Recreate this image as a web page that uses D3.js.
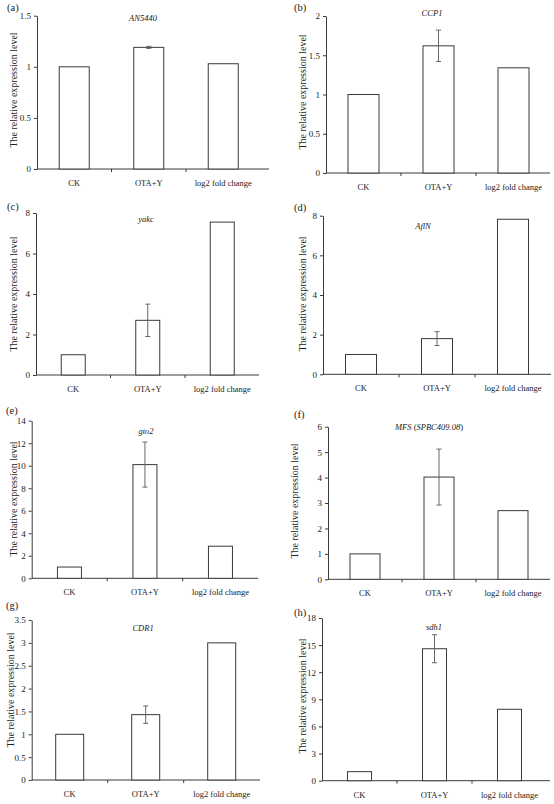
<!DOCTYPE html>
<html>
<head>
<meta charset="utf-8">
<script src="https://cdn.jsdelivr.net/npm/d3@7"></script>
<style>
  body { margin: 0; background: #fff; }
  text { font-family: "Liberation Serif", "DejaVu Serif", serif; fill: #222; }
</style>
</head>
<body>
<div id="chart"></div>
<script>
var categories = ["CK", "OTA+Y", "log2 fold change"];
var panelLabels = ["(a)", "(b)", "(c)", "(d)", "(e)", "(f)", "(g)", "(h)"];
var genes = ["AN5440", "CCP1", "yakc", "AflN", "gto2", "MFS", "CDR1", "sdh1"];
var ckValues = [1, 1, 1, 1, 1, 1, 1, 1];
var otaValues = [1.19, 1.62, 2.7, 1.8, 10.1, 4.02, 1.43, 14.6];
var otaErrors = [0.01, 0.2, 0.8, 0.35, 2.0, 1.1, 0.19, 1.55];
var log2Values = [1.03, 1.34, 7.55, 7.82, 2.85, 2.7, 3.0, 7.9];
var yMax = [1.5, 2, 8, 8, 14, 6, 3.5, 18];
var yStep = [0.5, 0.5, 2, 2, 2, 1, 0.5, 3];

// where each small figure sits on the page
var layout = [
  {left: 37, top: 15.7, bottom: 169, end: 269, bw: 74.5, barW: 30, lx: 7, ly: 11, tx: 143, ty: 21, yx: 13, yc: 90},
  {left: 326, top: 16, bottom: 173, end: 550, bw: 75, barW: 31, lx: 294, ly: 11, tx: 432, ty: 16, yx: 302, yc: 92},
  {left: 36, top: 213, bottom: 375, end: 259, bw: 74.5, barW: 24, lx: 7, ly: 210, tx: 146, ty: 222, yx: 13, yc: 294},
  {left: 323, top: 215.7, bottom: 374.3, end: 551, bw: 76, barW: 31, lx: 294, ly: 211, tx: 423, ty: 229, yx: 302, yc: 294},
  {left: 31.7, top: 420.7, bottom: 578.3, end: 258, bw: 75.5, barW: 24, lx: 6, ly: 414, tx: 146, ty: 434, yx: 13, yc: 499},
  {left: 328, top: 426.7, bottom: 579.3, end: 550, bw: 74, barW: 30, lx: 294, ly: 418, tx: 429, ty: 430, yx: 294, yc: 501},
  {left: 31.7, top: 620, bottom: 780, end: 260, bw: 76, barW: 28, lx: 6, ly: 609, tx: 143, ty: 631, yx: 10, yc: 690},
  {left: 322, top: 618, bottom: 780.7, end: 550, bw: 75, barW: 24, lx: 294, ly: 616, tx: 434, ty: 630, yx: 302, yc: 696}
];

var lineColor = "#3a3a3a";

var svg = d3.select("#chart")
  .append("svg")
  .attr("width", 554)
  .attr("height", 804);

layout.forEach(function(L, i) {
  var g = svg.append("g").attr("class", "panel");
  var vals = [ckValues[i], otaValues[i], log2Values[i]];
  var errs = [0, otaErrors[i], 0];

  var x = d3.scaleBand()
    .domain(categories)
    .range([L.left, L.left + 3 * L.bw])
    .paddingInner(1 - L.barW / L.bw)
    .paddingOuter((1 - L.barW / L.bw) / 2);
  var y = d3.scaleLinear().domain([0, yMax[i]]).range([L.bottom, L.top]);

  // y axis
  var ticks = d3.range(0, yMax[i] + yStep[i] / 2, yStep[i]);
  var ya = g.append("g")
    .attr("transform", "translate(" + L.left + ",0)")
    .call(d3.axisLeft(y).tickValues(ticks).tickSize(3).tickSizeOuter(0).tickPadding(3).tickFormat(d3.format("~g")));
  ya.select(".domain").attr("stroke", lineColor);
  ya.selectAll(".tick line").attr("stroke", lineColor);
  ya.selectAll(".tick text").attr("font-size", 9).attr("fill", "#222");

  // x axis
  g.append("line")
    .attr("x1", L.left).attr("x2", L.end)
    .attr("y1", L.bottom).attr("y2", L.bottom)
    .attr("stroke", lineColor);
  g.selectAll(".xtick")
    .data([1, 2])
    .enter().append("line")
    .attr("x1", function(d) { return L.left + d * x.step(); })
    .attr("x2", function(d) { return L.left + d * x.step(); })
    .attr("y1", L.bottom).attr("y2", L.bottom + 3)
    .attr("stroke", lineColor);
  var xa = g.append("g")
    .attr("transform", "translate(0," + L.bottom + ")")
    .call(d3.axisBottom(x).tickSize(0).tickPadding(11));
  xa.select(".domain").remove();
  xa.selectAll(".tick text").attr("font-size", 8.5).attr("fill", "#222");

  // bars
  g.selectAll(".bar")
    .data(categories)
    .enter().append("rect")
    .attr("class", "bar")
    .attr("x", function(d) { return x(d); })
    .attr("width", x.bandwidth())
    .attr("y", function(d, j) { return y(vals[j]); })
    .attr("height", function(d, j) { return L.bottom - y(vals[j]); })
    .attr("fill", "#fff")
    .attr("stroke", lineColor)
    .attr("stroke-width", 1);

  // error bar on OTA+Y
  var cx = x("OTA+Y") + x.bandwidth() / 2;
  var hi = y(vals[1] + errs[1]), lo = y(vals[1] - errs[1]);
  g.append("line").attr("x1", cx).attr("x2", cx).attr("y1", hi).attr("y2", lo)
    .attr("stroke", "#666");
  [hi, lo].forEach(function(yy) {
    g.append("line").attr("x1", cx - 2.5).attr("x2", cx + 2.5).attr("y1", yy).attr("y2", yy)
      .attr("stroke", "#666");
  });

  // panel label
  g.append("text")
    .attr("x", L.lx).attr("y", L.ly)
    .attr("font-size", 10.5)
    .text(panelLabels[i]);

  // gene name
  var t = g.append("text")
    .attr("x", L.tx).attr("y", L.ty)
    .attr("text-anchor", "middle")
    .attr("font-size", 8.5);
  t.append("tspan").attr("font-style", "italic").text(genes[i]);
  if (genes[i] == "MFS") {
    t.append("tspan").text(" (");
    t.append("tspan").attr("font-style", "italic").text("SPBC409.08");
    t.append("tspan").text(")");
  }

  // y title
  g.append("text")
    .attr("transform", "translate(" + L.yx + "," + L.yc + ") rotate(-90)")
    .attr("text-anchor", "middle")
    .attr("dy", "0.35em")
    .attr("font-size", 10)
    .text("The relative expression level");
});
</script>
</body>
</html>
